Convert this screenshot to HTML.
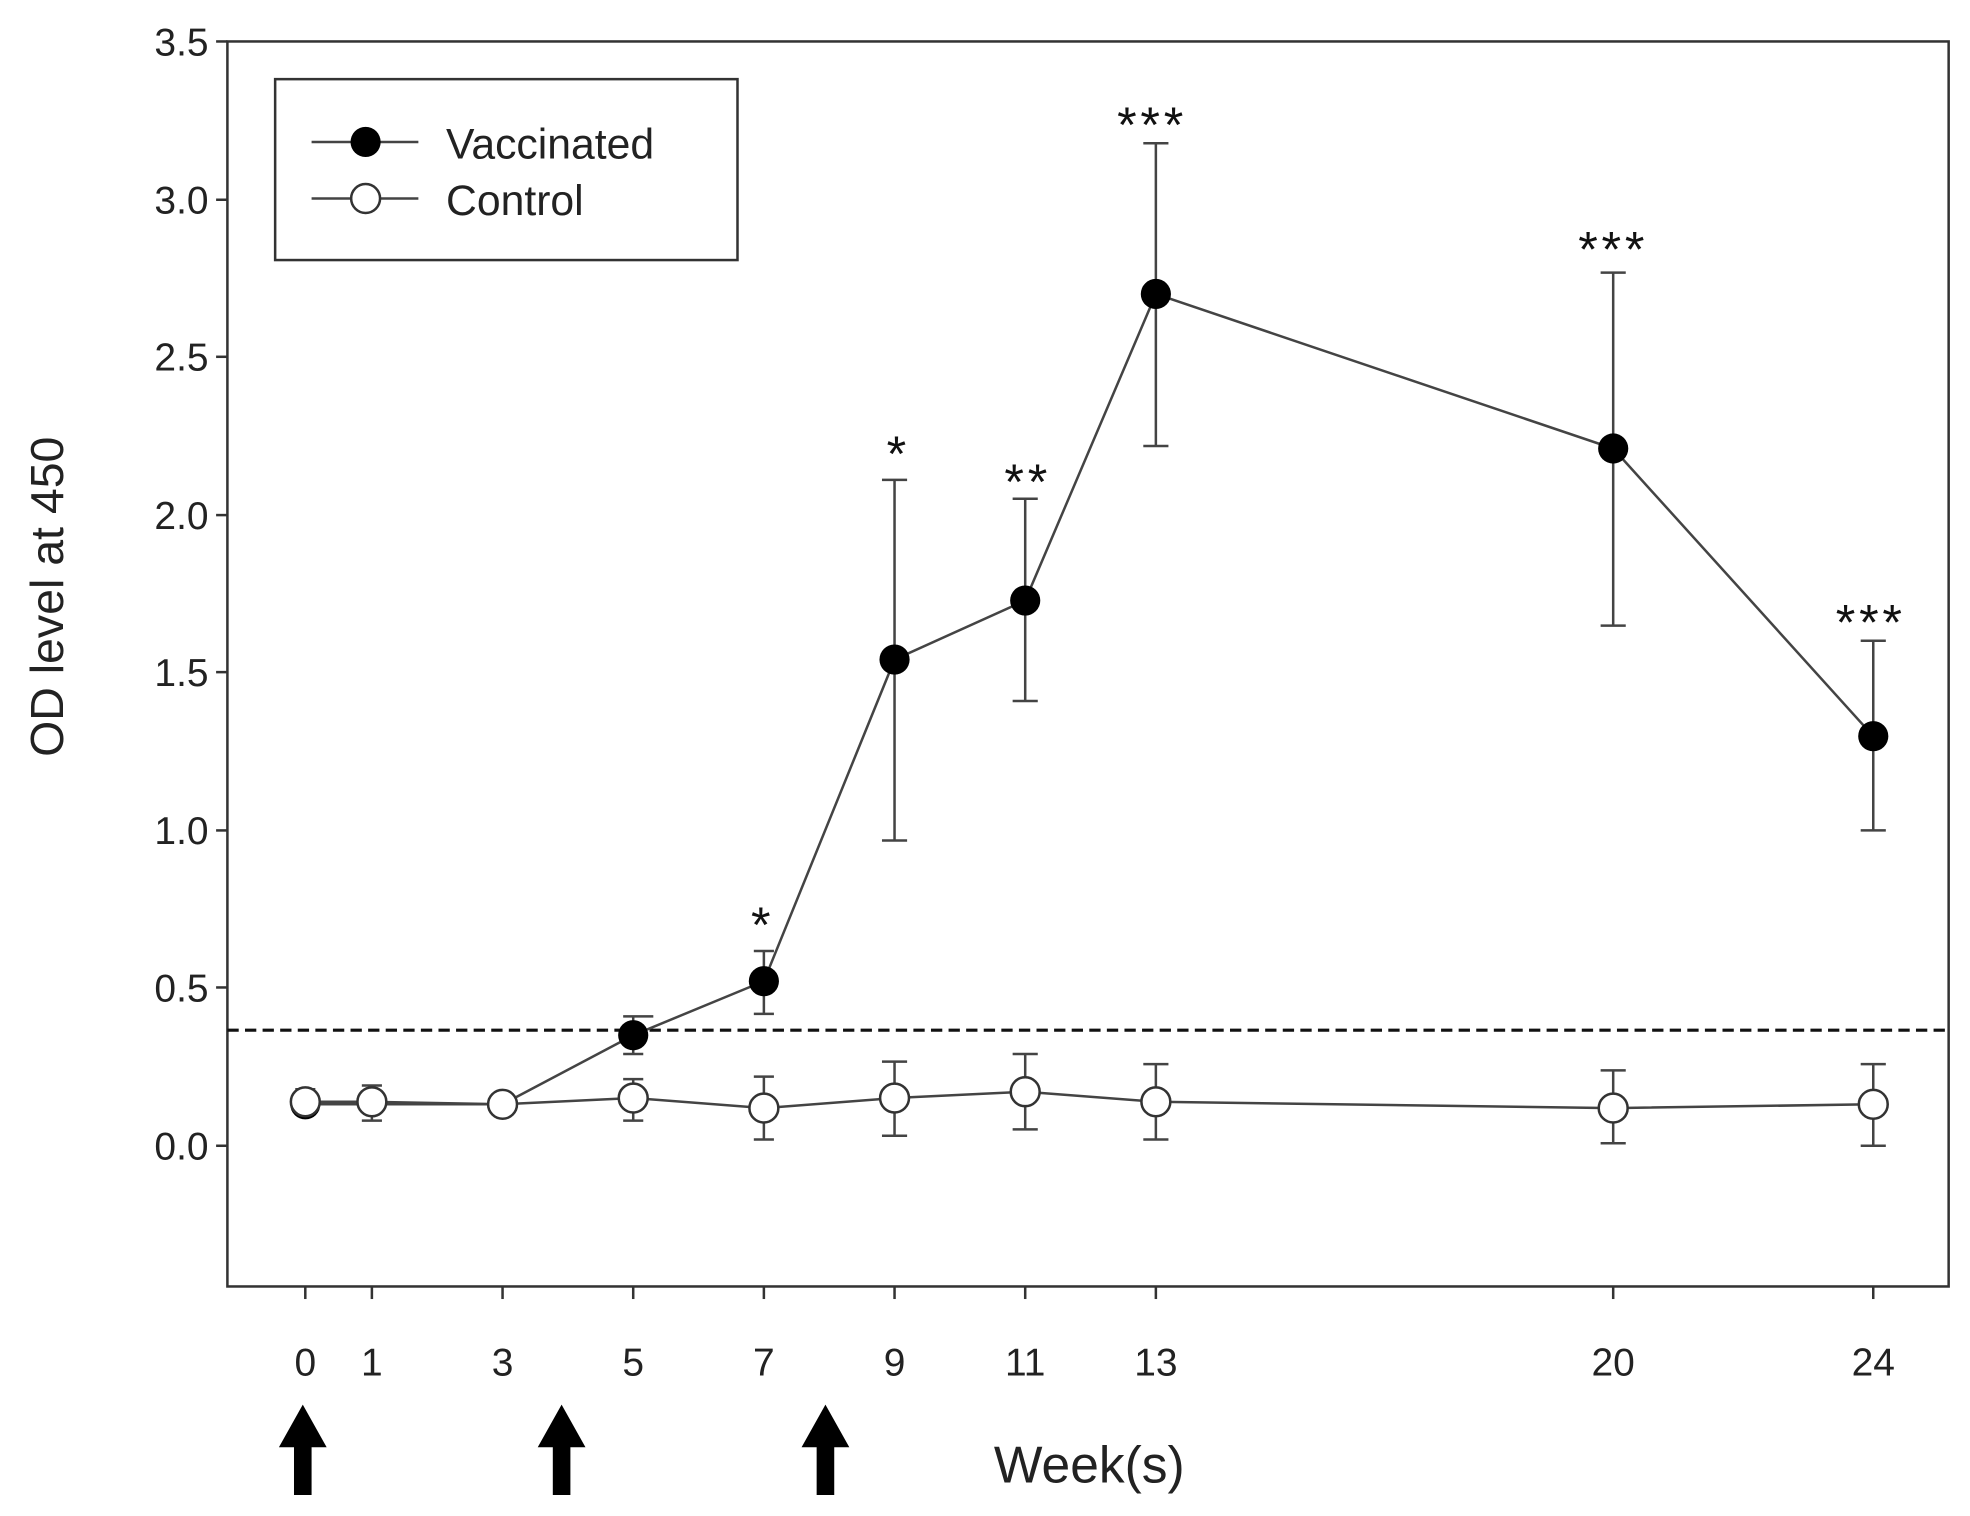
<!DOCTYPE html>
<html><head><meta charset="utf-8"><style>html,body{margin:0;padding:0;background:#fff}svg{display:block}</style></head><body>
<svg width="1970" height="1516" viewBox="0 0 1568 1206.7" preserveAspectRatio="none" font-family="Liberation Sans, Arial, sans-serif">
<rect x="181" y="33" width="1370" height="991" fill="none" stroke="#333" stroke-width="2"/>
<g font-size="31" fill="#222" text-anchor="end">
<text x="166" y="44">3.5</text><text x="166" y="170">3.0</text><text x="166" y="295">2.5</text><text x="166" y="421">2.0</text><text x="166" y="546">1.5</text><text x="166" y="672">1.0</text><text x="166" y="797">0.5</text><text x="166" y="923">0.0</text>
</g>
<g stroke="#333" stroke-width="2">
<line x1="172" y1="33" x2="181" y2="33"/><line x1="172" y1="159" x2="181" y2="159"/><line x1="172" y1="284" x2="181" y2="284"/><line x1="172" y1="410" x2="181" y2="410"/><line x1="172" y1="535" x2="181" y2="535"/><line x1="172" y1="661" x2="181" y2="661"/><line x1="172" y1="786" x2="181" y2="786"/><line x1="172" y1="912" x2="181" y2="912"/>
<line x1="243" y1="1024" x2="243" y2="1034"/><line x1="296" y1="1024" x2="296" y2="1034"/><line x1="400" y1="1024" x2="400" y2="1034"/><line x1="504" y1="1024" x2="504" y2="1034"/><line x1="608" y1="1024" x2="608" y2="1034"/><line x1="712" y1="1024" x2="712" y2="1034"/><line x1="816" y1="1024" x2="816" y2="1034"/><line x1="920" y1="1024" x2="920" y2="1034"/><line x1="1284" y1="1024" x2="1284" y2="1034"/><line x1="1491" y1="1024" x2="1491" y2="1034"/>
</g>
<g font-size="31" fill="#222" text-anchor="middle">
<text x="243" y="1095">0</text><text x="296" y="1095">1</text><text x="400" y="1095">3</text><text x="504" y="1095">5</text><text x="608" y="1095">7</text><text x="712" y="1095">9</text><text x="816" y="1095">11</text><text x="920" y="1095">13</text><text x="1284" y="1095">20</text><text x="1491" y="1095">24</text>
</g>
<text x="867" y="1180" font-size="41" text-anchor="middle" fill="#222">Week(s)</text>
<text transform="translate(50,475) rotate(-90)" font-size="37" text-anchor="middle" fill="#222">OD level at 450</text>
<line x1="181" y1="820" x2="1551" y2="820" stroke="#111" stroke-width="2.5" stroke-dasharray="9,5"/>
<g fill="#000">
<polygon points="222,1152 241,1118 260,1152 248,1152 248,1190 234,1190 234,1152"/>
<polygon points="428,1152 447,1118 466,1152 454,1152 454,1190 440,1190 440,1152"/>
<polygon points="638,1152 657,1118 676,1152 664,1152 664,1190 650,1190 650,1152"/>
</g>
<g stroke="#444" stroke-width="2" fill="none">
<path d="M504,839V809M496,839H512M496,809H520"/>
<path d="M608,807V782M600,807H616M600,757H616M608,782V757"/>
<path d="M712,669V382M702,669H722M702,382H722"/>
<path d="M816,558V397M806,558H826M806,397H826"/>
<path d="M920,355V114M910,355H930M910,114H930"/>
<path d="M1284,498V217M1274,498H1294M1274,217H1294"/>
<path d="M1491,661V510M1481,661H1501M1481,510H1501"/>
<path d="M243,887V867M235,887H251M235,867H251"/>
<path d="M296,892V864M288,892H304M288,864H304"/>
<path d="M504,892V859M496,892H512M496,859H512"/>
<path d="M608,907V857M600,907H616M600,857H616"/>
<path d="M712,904V845M702,904H722M702,845H722"/>
<path d="M816,899V839M806,899H826M806,839H826"/>
<path d="M920,907V847M910,907H930M910,847H930"/>
<path d="M1284,910V852M1274,910H1294M1274,852H1294"/>
<path d="M1491,912V847M1481,912H1501M1481,847H1501"/>
</g>
<polyline points="243,879 400,879 504,824 608,781 712,525 816,478 920,234 1284,357 1491,586" fill="none" stroke="#444" stroke-width="2"/>
<polyline points="243,877 296,877 400,879 504,874 608,882 712,874 816,869 920,877 1284,882 1491,879" fill="none" stroke="#444" stroke-width="2"/>
<g fill="#000">
<circle cx="243" cy="879" r="12"/><circle cx="504" cy="824" r="12"/><circle cx="608" cy="781" r="12"/><circle cx="712" cy="525" r="12"/><circle cx="816" cy="478" r="12"/><circle cx="920" cy="234" r="12"/><circle cx="1284" cy="357" r="12"/><circle cx="1491" cy="586" r="12"/>
</g>
<g fill="#fff" stroke="#333" stroke-width="2">
<circle cx="243" cy="877" r="11.5"/><circle cx="296" cy="877" r="11.5"/><circle cx="400" cy="879" r="11.5"/><circle cx="504" cy="874" r="11.5"/><circle cx="608" cy="882" r="11.5"/><circle cx="712" cy="874" r="11.5"/><circle cx="816" cy="869" r="11.5"/><circle cx="920" cy="877" r="11.5"/><circle cx="1284" cy="882" r="11.5"/><circle cx="1491" cy="879" r="11.5"/>
</g>
<g font-size="40" fill="#111" text-anchor="middle" letter-spacing="3">
<text x="607" y="750">*</text><text x="715" y="375">*</text><text x="818" y="397">**</text><text x="917" y="113">***</text><text x="1284" y="212">***</text><text x="1489" y="509">***</text>
</g>
<rect x="219" y="63" width="368" height="144" fill="#fff" stroke="#333" stroke-width="2"/>
<line x1="248" y1="113" x2="333" y2="113" stroke="#444" stroke-width="2"/>
<circle cx="291" cy="113" r="12" fill="#000"/>
<line x1="248" y1="158" x2="333" y2="158" stroke="#444" stroke-width="2"/>
<circle cx="291" cy="158" r="11.5" fill="#fff" stroke="#333" stroke-width="2"/>
<text x="355" y="126" font-size="34" fill="#222">Vaccinated</text>
<text x="355" y="171" font-size="34" fill="#222">Control</text>
</svg>
</body></html>
